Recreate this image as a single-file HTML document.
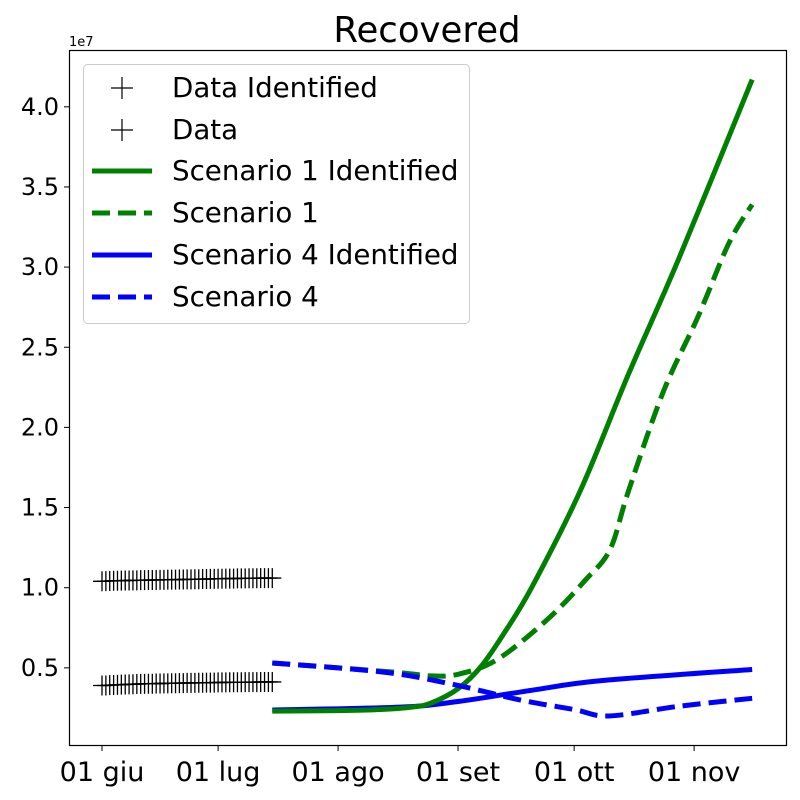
<!DOCTYPE html>
<html><head><meta charset="utf-8"><style>
body{margin:0;background:#fff}
svg{display:block;font-family:"DejaVu Sans","Liberation Sans",sans-serif}
</style></head><body>
<svg id="chart" width="800" height="800" viewBox="0 0 800 800" xmlns="http://www.w3.org/2000/svg">
<text x="427" y="42" font-size="35.5" text-anchor="middle">Recovered</text>
<text x="69" y="46" font-size="13">1e7</text>
<g id="plot"></g>
<rect x="69.5" y="50.5" width="717" height="695" fill="none" stroke="#000" stroke-width="1.2"/>
<g>
<rect x="83.5" y="64.5" width="386" height="259" rx="4" fill="#fff" fill-opacity="0.85" stroke="#ccc"/>
<g><path d="M111 88h22M122 77v22" stroke="#000" stroke-width="1.2"/><text x="172" y="97" font-size="27.7">Data Identified</text></g>
<g><path d="M111 130h22M122 119v22" stroke="#000" stroke-width="1.2"/><text x="172" y="139" font-size="27.7">Data</text></g>
<g><path d="M92 171h60" stroke="green" stroke-width="5"/><text x="172" y="180" font-size="27.7">Scenario 1 Identified</text></g>
<g><path d="M92 213h60" stroke="green" stroke-width="5" stroke-dasharray="18 8"/><text x="172" y="222" font-size="27.7">Scenario 1</text></g>
<g><path d="M92 255h60" stroke="blue" stroke-width="5"/><text x="172" y="264" font-size="27.7">Scenario 4 Identified</text></g>
<g><path d="M92 297h60" stroke="blue" stroke-width="5" stroke-dasharray="18 8"/><text x="172" y="306" font-size="27.7">Scenario 4</text></g>
</g>
</svg>
<script>
// days since 01 giu
const dataDays = Array.from({length:45},(_, i)=>i);
const dataIdentified = [0.39,0.39,0.392,0.393,0.394,0.395,0.396,0.397,0.398,0.399,0.40,0.40,0.401,0.401,0.402,0.402,0.403,0.403,0.404,0.404,0.405,0.405,0.406,0.406,0.406,0.407,0.407,0.408,0.408,0.408,0.409,0.409,0.409,0.41,0.41,0.41,0.41,0.411,0.411,0.411,0.411,0.412,0.412,0.412,0.412];
const dataTotal = [1.04,1.041,1.042,1.043,1.043,1.044,1.045,1.045,1.046,1.046,1.047,1.047,1.048,1.048,1.048,1.049,1.049,1.05,1.05,1.05,1.051,1.051,1.052,1.052,1.053,1.053,1.054,1.054,1.055,1.055,1.056,1.056,1.057,1.057,1.057,1.058,1.058,1.058,1.059,1.059,1.059,1.06,1.06,1.06,1.06];
const s1IdDays = [44,61,72,80,85,92,98,104,111,123.5,136,149,168];
const s1IdVals = [0.23,0.233,0.24,0.255,0.28,0.37,0.51,0.72,1.0,1.6,2.33,3.05,4.17];
const s1Days = [44,61,77,85,92,102,115,125,131.3,136,145,154,162,168];
const s1Vals = [0.53,0.5,0.47,0.45,0.46,0.55,0.8,1.05,1.24,1.6,2.22,2.69,3.15,3.39];
const s4IdDays = [44,77,92,111,129,168];
const s4IdVals = [0.237,0.255,0.29,0.36,0.42,0.49];
const s4Days = [44,61,77,92,108,122,131,149,168];
const s4Vals = [0.53,0.5,0.46,0.39,0.3,0.24,0.2,0.26,0.31];
const yTicks = [0.5,1.0,1.5,2.0,2.5,3.0,3.5,4.0];
const xTickDays = [0,30,61,92,122,153];
const xTickLabels = ["01 giu","01 lug","01 ago","01 set","01 ott","01 nov"];

const X = d => 102 + d*3.87;
const Y = v => 748 - v*160.3;
const NS = "http://www.w3.org/2000/svg";
const plot = document.getElementById('plot');
function mk(tag, attrs){const e=document.createElementNS(NS,tag);for(const k in attrs)e.setAttribute(k,attrs[k]);plot.appendChild(e);return e;}

yTicks.forEach(v=>{
  const t=mk('line',{x1:64,x2:69,y1:Y(v),y2:Y(v),stroke:'#000'});
  
  
  const l=mk('text',{x:59,y:Y(v)+8,'font-size':24,'text-anchor':'end'});
  
  
  l.textContent=v.toFixed(1);
});
xTickDays.forEach((d,i)=>{
  const t=mk('line',{x1:X(d),x2:X(d),y1:746,y2:751,stroke:'#000'});
  
  
  const l=mk('text',{x:X(d),y:781,'font-size':27,'text-anchor':'middle'});
  
  
  l.textContent=xTickLabels[i];
});
function smoothPath(pts){
  let d='M'+pts[0][0]+' '+pts[0][1];
  for(let i=0;i<pts.length-1;i++){
    const p0=pts[Math.max(0,i-1)],p1=pts[i],p2=pts[i+1],p3=pts[Math.min(pts.length-1,i+2)];
    const c1x=p1[0]+(p2[0]-p0[0])/6,c1y=p1[1]+(p2[1]-p0[1])/6;
    const c2x=p2[0]-(p3[0]-p1[0])/6,c2y=p2[1]-(p3[1]-p1[1])/6;
    d+=` C${c1x} ${c1y} ${c2x} ${c2y} ${p2[0]} ${p2[1]}`;
  }
  return d;
}
function line(days, vals, color, dash, name){
  const pts=days.map((d,i)=>[X(d),Y(vals[i])]);
  const p=mk('path',{d:smoothPath(pts),fill:'none',stroke:color,'stroke-width':5,'stroke-linejoin':'round'});
  if(dash)p.setAttribute('stroke-dasharray','18 8');
  
  
}
function markers(vals, name){
  const p=mk('polyline',{points:dataDays.map((d,i)=>X(d)+','+Y(vals[i])).join(' '),fill:'none',stroke:'#000','stroke-width':1.5});
  
  
  dataDays.forEach((d,i)=>{
    const m=mk('path',{d:`M${X(d)-9} ${Y(vals[i])}h18M${X(d)} ${Y(vals[i])-10}v20`,stroke:'#000','stroke-width':1.3});
    
    
  });
}
markers(dataIdentified,'data-identified');
markers(dataTotal,'data');
line(s4IdDays,s4IdVals,'blue',false,'scenario4-identified-line');
line(s1IdDays,s1IdVals,'green',false,'scenario1-identified-line');
line(s1Days,s1Vals,'green',true,'scenario1-line');
line(s4Days,s4Vals,'blue',true,'scenario4-line');
</script>
</body></html>
